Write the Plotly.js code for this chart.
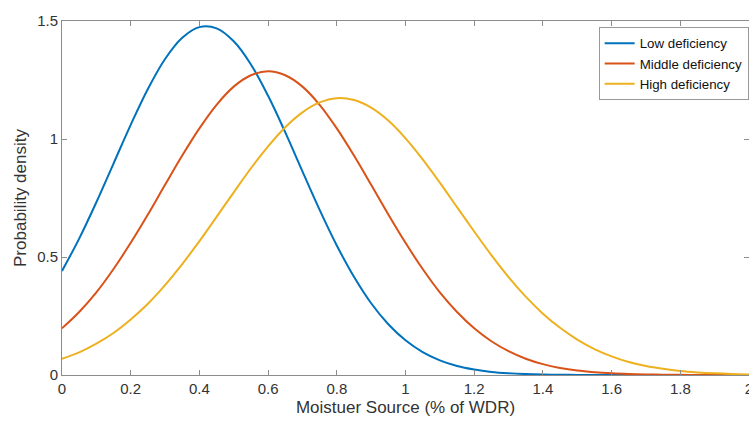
<!DOCTYPE html>
<html>
<head>
<meta charset="utf-8">
<script src="https://cdn.plot.ly/plotly-3.0.1.min.js"></script>
<style>
html,body{margin:0;padding:0;background:#fff;}
#chart{width:749px;height:421px;}
</style>
</head>
<body>
<div id="chart"></div>
<script>
// x positions (% of WDR, as fraction)
const xValues = [0,0.05,0.1,0.15,0.2,0.25,0.3,0.35,0.4,0.45,0.5,0.55,0.6,0.65,0.7,0.75,0.8,0.85,0.9,0.95,1,1.05,1.1,1.15,1.2,1.25,1.3,1.35,1.4,1.45,1.5,1.55,1.6,1.65,1.7,1.75,1.8,1.85,1.9,1.95,2];

const lowDeficiency = [0.441,0.578,0.732,0.896,1.060,1.212,1.339,1.429,1.474,1.469,1.414,1.316,1.183,1.028,0.863,0.700,0.549,0.416,0.304,0.215,0.147,0.097,0.062,0.038,0.023,0.013,0.0073,0.0039,0.0020,0.0010,0.0005,0.0002,0.0001,0,0,0,0,0,0,0,0];

const middleDeficiency = [0.198,0.267,0.350,0.449,0.560,0.680,0.806,0.930,1.045,1.145,1.222,1.270,1.287,1.270,1.222,1.145,1.045,0.930,0.806,0.680,0.560,0.449,0.350,0.267,0.198,0.143,0.101,0.069,0.046,0.030,0.019,0.012,0.0071,0.0041,0.0024,0.0013,0.0007,0.0004,0.0002,0.0001,0];

const highDeficiency = [0.069,0.096,0.133,0.178,0.235,0.302,0.381,0.470,0.567,0.670,0.774,0.876,0.969,1.050,1.113,1.155,1.173,1.165,1.133,1.078,1.003,0.914,0.815,0.711,0.608,0.508,0.415,0.332,0.260,0.200,0.150,0.110,0.079,0.055,0.038,0.026,0.017,0.011,0.0069,0.0042,0.0026];

const seriesNames = ["Low deficiency","Middle deficiency","High deficiency"];
const xTickVals = [0,0.2,0.4,0.6,0.8,1,1.2,1.4,1.6,1.8,2];
const xTickText = ["0","0.2","0.4","0.6","0.8","1","1.2","1.4","1.6","1.8","2"];
const yTickVals = [0,0.5,1,1.5];
const yTickText = ["0","0.5","1","1.5"];

const colors = ["#0072BD","#D95319","#EDB120"];
const seriesData = [lowDeficiency, middleDeficiency, highDeficiency];

const traces = seriesData.map((ys, i) => ({
  x: xValues, y: ys, type: "scatter", mode: "lines",
  name: seriesNames[i],
  line: {color: colors[i], width: 2, shape: "spline", smoothing: 1}
}));

const fontFam = "Liberation Sans, Arial, sans-serif";
const axisCommon = {
  showgrid: false, zeroline: false,
  showline: true, linecolor: "#8c8c8c", linewidth: 1, mirror: "ticks",
  ticks: "inside", ticklen: 5, tickwidth: 1, tickcolor: "#8c8c8c",
  ticklabeloverflow: "allow",
  tickfont: {family: fontFam, size: 15, color: "#333333"}
};

const layout = {
  width: 749, height: 421,
  margin: {l: 62, r: 0, t: 21, b: 46},
  paper_bgcolor: "#ffffff", plot_bgcolor: "#ffffff",
  showlegend: true,
  xaxis: Object.assign({}, axisCommon, {
    range: [0, 2], tickvals: xTickVals, ticktext: xTickText,
    title: {text: "Moistuer Source (% of WDR)", standoff: 5,
      font: {family: fontFam, size: 17, color: "#333333"}}
  }),
  yaxis: Object.assign({}, axisCommon, {
    range: [0, 1.5], tickvals: yTickVals, ticktext: yTickText,
    title: {text: "Probability density", standoff: 6,
      font: {family: fontFam, size: 17, color: "#333333"}}
  }),
  legend: {
    x: 0.9995, xanchor: "right", y: 0.983, yanchor: "top",
    bgcolor: "#ffffff", bordercolor: "#999999", borderwidth: 1,
    font: {family: fontFam, size: 13.3, color: "#111111"},
    tracegroupgap: 0, itemwidth: 30
  }
};

Plotly.newPlot("chart", traces, layout, {displayModeBar: false, staticPlot: true});
</script>
</body>
</html>
